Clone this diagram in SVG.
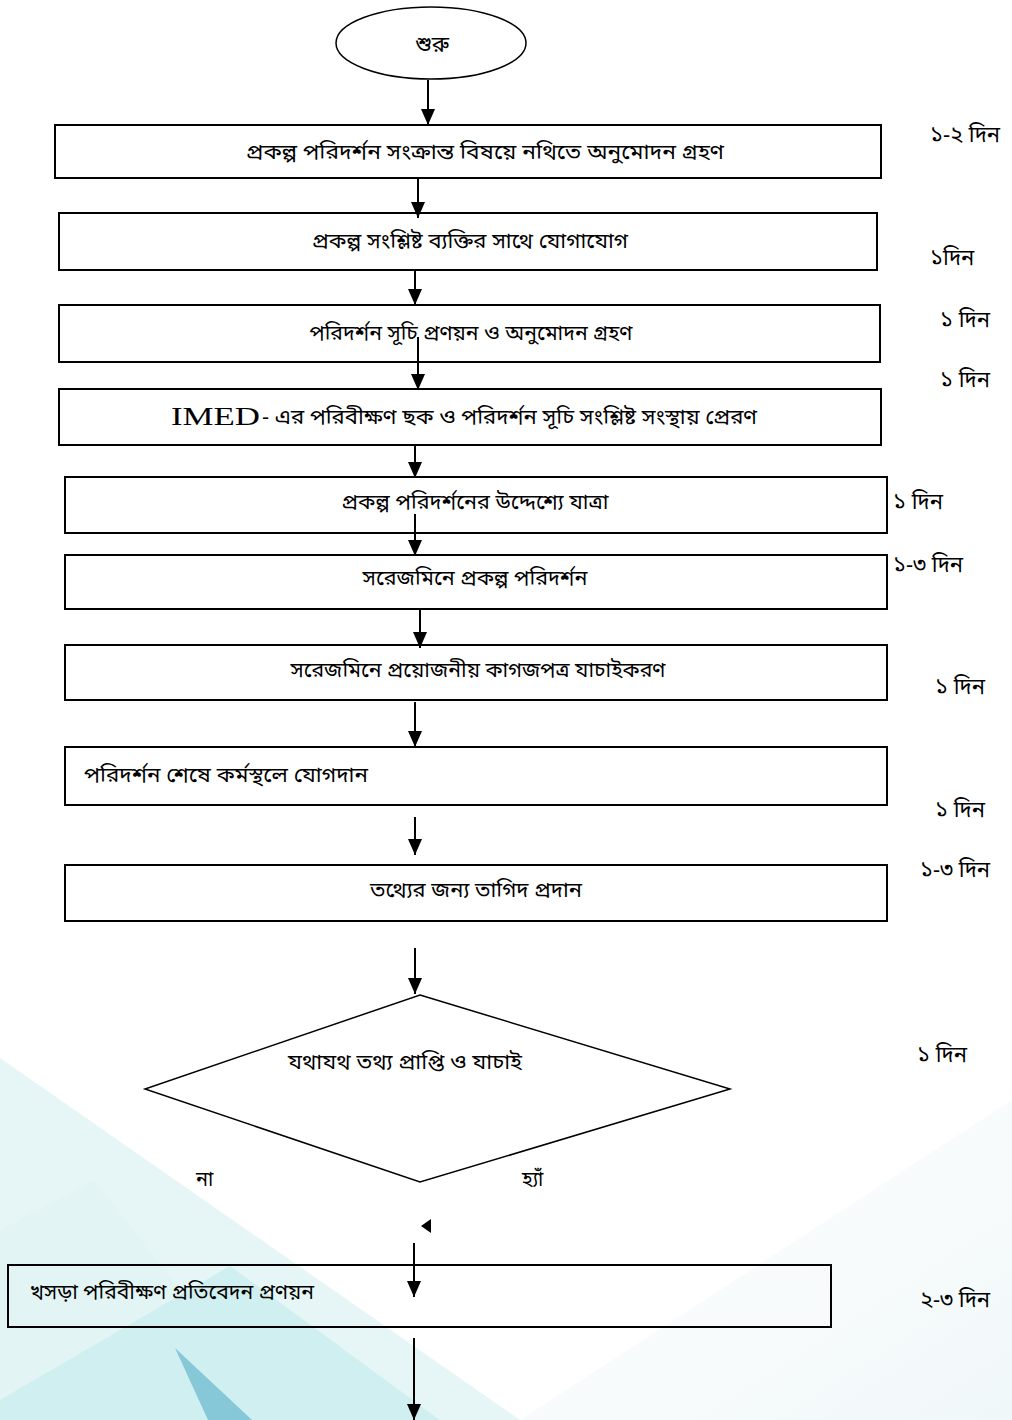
<svg xmlns="http://www.w3.org/2000/svg" width="1012" height="1420" viewBox="0 0 1012 1420">
<defs>
<marker id="ah" markerUnits="userSpaceOnUse" markerWidth="16" markerHeight="14" refX="16" refY="7" orient="auto">
<path d="M0,0 L16,7 L0,14 z" fill="#000"/>
</marker>
<linearGradient id="rg" x1="0" y1="0" x2="1" y2="1">
<stop offset="0" stop-color="#f4f9fa" stop-opacity="0"/>
<stop offset="1" stop-color="#eef6f8" stop-opacity="0.9"/>
</linearGradient>
<style>
.box{fill:#fff;stroke:#000;stroke-width:2}
.t{font-family:"Noto Sans Bengali","Noto Sans","Liberation Sans",sans-serif;font-size:20px;fill:#000}
.lbl{font-family:"Noto Sans Bengali","Noto Sans","Liberation Sans",sans-serif;font-size:22px;fill:#000}
.c{text-anchor:middle}
.ln{stroke:#000;stroke-width:2;fill:none;marker-end:url(#ah)}
</style>
</defs>
<rect width="1012" height="1420" fill="#fff"/>
<g id="background">
<polygon points="1012,1100 1012,1420 520,1420" fill="url(#rg)"/>
<polygon points="0,1058 520,1420 0,1420" fill="#e6f6f6"/>
<polygon points="95,1180 280,1420 0,1420 0,1230" fill="#e0f4f4" opacity="0.6"/>
<polygon points="230,1266 440,1420 0,1420 0,1400" fill="#d0eff0"/>
<polygon points="175,1348 252,1420 208,1420" fill="#86c7d8"/>
</g>
<g id="start">
<ellipse cx="431" cy="43" rx="95" ry="36" fill="#fff" stroke="#000" stroke-width="1.5"/>
<text class="t c" x="432" y="52" style="font-size:22px">শুরু</text>
</g>
<g id="step1">
<rect class="box" x="55" y="125" width="826" height="53"/>
<text class="t c" x="485" y="159" textLength="478" lengthAdjust="spacingAndGlyphs">প্রকল্প পরিদর্শন সংক্রান্ত বিষয়ে নথিতে অনুমোদন গ্রহণ</text>
</g>
<g id="step2">
<rect class="box" x="59" y="213" width="818" height="57"/>
<text class="t c" x="470" y="248" textLength="316" lengthAdjust="spacingAndGlyphs">প্রকল্প সংশ্লিষ্ট ব্যক্তির সাথে যোগাযোগ</text>
</g>
<g id="step3">
<rect class="box" x="59" y="305" width="821" height="57"/>
<text class="t c" x="471" y="340" textLength="323" lengthAdjust="spacingAndGlyphs">পরিদর্শন সূচি প্রণয়ন ও অনুমোদন গ্রহণ</text>
</g>
<g id="step4">
<rect class="box" x="59" y="389" width="822" height="56"/>
<text x="171" y="425" style="font-family:'Liberation Serif',serif;font-size:26px" textLength="89" lengthAdjust="spacingAndGlyphs">IMED</text>
<text class="t" x="262" y="424" textLength="495" lengthAdjust="spacingAndGlyphs">- এর পরিবীক্ষণ ছক ও পরিদর্শন সূচি সংশ্লিষ্ট সংস্থায় প্রেরণ</text>
</g>
<g id="step5">
<rect class="box" x="65" y="477" width="822" height="56"/>
<text class="t c" x="475" y="509" textLength="267" lengthAdjust="spacingAndGlyphs">প্রকল্প পরিদর্শনের উদ্দেশ্যে যাত্রা</text>
</g>
<g id="step6">
<rect class="box" x="65" y="555" width="822" height="54"/>
<text class="t c" x="475" y="585" textLength="225" lengthAdjust="spacingAndGlyphs">সরেজমিনে প্রকল্প পরিদর্শন</text>
</g>
<g id="step7">
<rect class="box" x="65" y="645" width="822" height="55"/>
<text class="t c" x="478" y="677" textLength="375" lengthAdjust="spacingAndGlyphs">সরেজমিনে প্রয়োজনীয় কাগজপত্র যাচাইকরণ</text>
</g>
<g id="step8">
<rect class="box" x="65" y="747" width="822" height="58"/>
<text class="t" x="84" y="782" textLength="284" lengthAdjust="spacingAndGlyphs">পরিদর্শন শেষে কর্মস্থলে যোগদান</text>
</g>
<g id="step9">
<rect class="box" x="65" y="865" width="822" height="56"/>
<text class="t c" x="476" y="897" textLength="212" lengthAdjust="spacingAndGlyphs">তথ্যের জন্য তাগিদ প্রদান</text>
</g>
<g id="decision">
<polygon points="420,995 730,1089 420,1182 145,1089" fill="none" stroke="#000" stroke-width="1.5"/>
<text class="t c" x="405" y="1069" textLength="234" lengthAdjust="spacingAndGlyphs">যথাযথ তথ্য প্রাপ্তি ও যাচাই</text>
<text class="t" x="196" y="1186">না</text>
<text class="t" x="522" y="1186">হ্যাঁ</text>
</g>
<g id="step10">
<rect x="8" y="1265" width="823" height="62" fill="none" stroke="#000" stroke-width="2"/>
<text class="t" x="30" y="1299" textLength="284" lengthAdjust="spacingAndGlyphs">খসড়া পরিবীক্ষণ প্রতিবেদন প্রণয়ন</text>
</g>
<g id="durations">
<text class="lbl" x="930" y="142">১-২ দিন</text>
<text class="lbl" x="930" y="265">১দিন</text>
<text class="lbl" x="940" y="327">১ দিন</text>
<text class="lbl" x="940" y="387">১ দিন</text>
<text class="lbl" x="893" y="509">১ দিন</text>
<text class="lbl" x="893" y="572">১-৩ দিন</text>
<text class="lbl" x="935" y="694">১ দিন</text>
<text class="lbl" x="935" y="817">১ দিন</text>
<text class="lbl" x="920" y="877">১-৩ দিন</text>
<text class="lbl" x="917" y="1062">১ দিন</text>
<text class="lbl" x="920" y="1307">২-৩ দিন</text>
</g>
<g id="connectors">
<line class="ln" x1="428" y1="80" x2="428" y2="125"/>
<line class="ln" x1="418" y1="178" x2="418" y2="218"/>
<line class="ln" x1="415" y1="270" x2="415" y2="305"/>
<line class="ln" x1="418" y1="337" x2="418" y2="390"/>
<line class="ln" x1="415" y1="445" x2="415" y2="478"/>
<line class="ln" x1="415" y1="514" x2="415" y2="556"/>
<line class="ln" x1="420" y1="609" x2="420" y2="648"/>
<line class="ln" x1="415" y1="702" x2="415" y2="747"/>
<line class="ln" x1="415" y1="817" x2="415" y2="855"/>
<line class="ln" x1="415" y1="948" x2="415" y2="994"/>
<polygon points="421,1226 431,1219 431,1233" fill="#000"/>
<line class="ln" x1="414" y1="1243" x2="414" y2="1297"/>
<line class="ln" x1="414" y1="1338" x2="414" y2="1420"/>
</g>
</svg>
